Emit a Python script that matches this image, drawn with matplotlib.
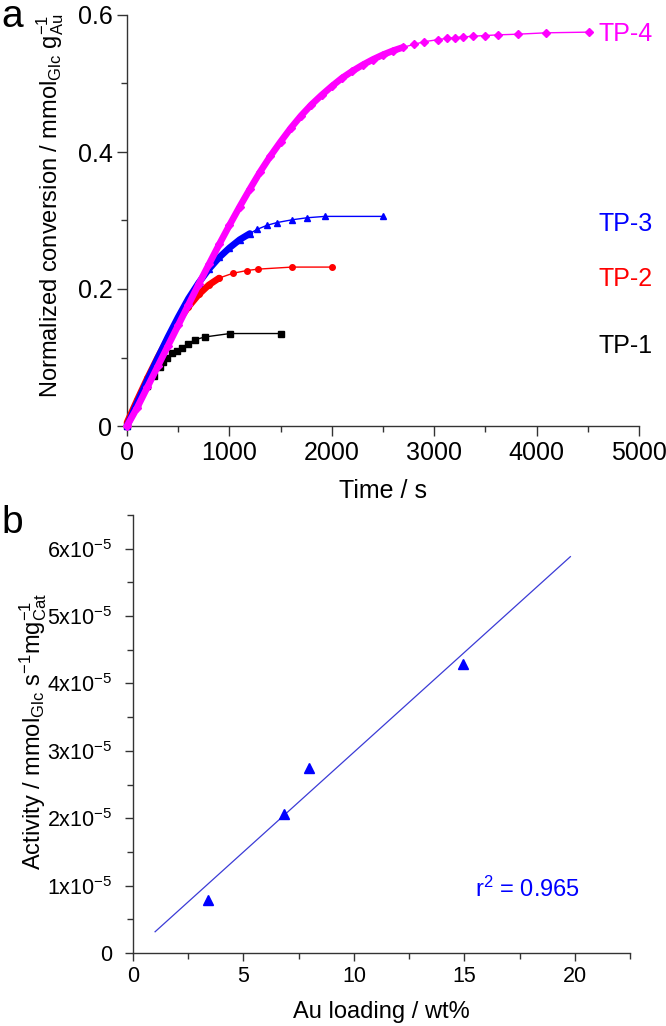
import numpy as np
import matplotlib
matplotlib.use("Agg")
import matplotlib.pyplot as plt
from matplotlib.ticker import MultipleLocator, FuncFormatter

plt.rcParams['font.family'] = ['Liberation Sans', 'DejaVu Sans']
plt.rcParams['mathtext.fontset'] = 'custom'
plt.rcParams['mathtext.rm'] = 'Liberation Sans'
plt.rcParams['mathtext.it'] = 'Liberation Sans:italic'
plt.rcParams['mathtext.bf'] = 'Liberation Sans:bold'

# ---- panel a: normalized conversion vs time ----
tp1_t = [0, 100, 200, 260, 322, 352, 391, 439, 488, 537, 596, 664, 762, 1006, 1504]
tp1_y = [0, 0.030, 0.059, 0.073, 0.086, 0.093, 0.100, 0.106, 0.110, 0.114, 0.120, 0.126, 0.130, 0.135, 0.135]

tp2_t = [0, 100, 200, 300, 400, 500, 600, 700, 800, 900, 1035, 1172, 1280, 1611, 2002]
tp2_y = [0.005, 0.038, 0.070, 0.100, 0.128, 0.153, 0.174, 0.192, 0.206, 0.216, 0.223, 0.227, 0.229, 0.232, 0.232]

tp3_t = [0, 100, 200, 300, 400, 500, 600, 700, 800, 900, 1000, 1100, 1200, 1270, 1367,
         1465, 1611, 1758, 1934, 2500]
tp3_y = [0, 0.034, 0.067, 0.099, 0.130, 0.159, 0.186, 0.209, 0.229, 0.246, 0.260, 0.272, 0.281,
         0.287, 0.293, 0.297, 0.301, 0.304, 0.306, 0.306]

tp4_t = [0, 100, 200, 300, 400, 500, 600, 700, 800, 900, 1000, 1100, 1200, 1300, 1400, 1500,
         1600, 1700, 1800, 1900, 2000, 2100, 2200, 2300, 2400, 2500, 2600, 2700, 2800, 2900,
         3037, 3125, 3203, 3281, 3379, 3496, 3623, 3818, 4092, 4512]
tp4_y = [0, 0.027, 0.057, 0.087, 0.117, 0.147, 0.177, 0.207, 0.236, 0.265, 0.293, 0.320, 0.346,
         0.371, 0.394, 0.415, 0.435, 0.453, 0.469, 0.483, 0.496, 0.508, 0.518, 0.527, 0.535,
         0.542, 0.548, 0.553, 0.557, 0.561, 0.564, 0.566, 0.567, 0.568, 0.569, 0.570, 0.571,
         0.572, 0.574, 0.575]

series_names = ['TP-1', 'TP-2', 'TP-3', 'TP-4']

# ---- panel b: activity vs Au loading ----
au_loading = [3.39, 6.83, 7.96, 14.93]
activity = [0.79e-5, 2.06e-5, 2.74e-5, 4.29e-5]
fit_range = [1.0, 19.8]
r_squared = 0.965

W, H = 666, 1026
fig = plt.figure(figsize=(W / 100, H / 100), dpi=100)
axis_col = '#333333'


def style_axes(ax, fs, ylpad):
    for s in ['top', 'right']:
        ax.spines[s].set_visible(False)
    for s in ['left', 'bottom']:
        ax.spines[s].set_color(axis_col)
        ax.spines[s].set_linewidth(1.0)
    ax.tick_params(which='both', direction='out', color=axis_col, width=1.0, labelsize=fs)
    ax.tick_params(axis='y', which='major', pad=ylpad)
    ax.tick_params(axis='x', which='major', pad=3.5)


def draw_series(ax, t, y, color, marker, ms, dense_until=None, z=2):
    t = np.asarray(t)
    y = np.asarray(y)
    if dense_until is not None:
        d = t <= dense_until
        ax.plot(t[d], y[d], color=color, lw=4.8, solid_capstyle='round',
                solid_joinstyle='round', clip_on=False, zorder=z)
    ax.plot(t, y, color=color, lw=1.0, marker=marker, ms=ms, mec=color, mfc=color,
            clip_on=False, zorder=z)


# panel a
ax = fig.add_axes([127 / W, 1 - 426 / H, (639 - 127) / W, (426 - 15) / H])
style_axes(ax, 18, 3.5)
ax.tick_params(which='major', length=7)
ax.tick_params(which='minor', length=4)

draw_series(ax, tp1_t, tp1_y, 'black', 's', 4.5, None, 2)
draw_series(ax, tp2_t, tp2_y, '#ff0000', 'o', 4.0, 1000, 3)
draw_series(ax, tp3_t, tp3_y, '#0000ff', '^', 5.0, 1200, 4)
draw_series(ax, tp4_t, tp4_y, '#ff00ff', 'D', 3.8, 2700, 5)

ax.set_xlim(0, 5000)
ax.set_ylim(0, 0.6)
ax.xaxis.set_major_locator(MultipleLocator(1000))
ax.xaxis.set_minor_locator(MultipleLocator(500))
ax.yaxis.set_major_locator(MultipleLocator(0.2))
ax.yaxis.set_minor_locator(MultipleLocator(0.1))
ax.yaxis.set_major_formatter(FuncFormatter(lambda v, p: '0' if abs(v) < 1e-9 else f'{v:.1f}'))

label_pos = {'TP-1': (4600, 0.106, 'black'), 'TP-2': (4600, 0.204, '#ff0000'),
             'TP-3': (4600, 0.284, '#0000ff'), 'TP-4': (4600, 0.562, '#ff00ff')}
for name in series_names:
    x, y, c = label_pos[name]
    ax.text(x, y, name, color=c, fontsize=18, va='baseline', ha='left')

ax.set_xlabel('Time / s', fontsize=18, va='baseline')
ax.xaxis.set_label_coords(0.5, (426 - 498) / 411)
ax.set_ylabel(r'Normalized conversion / mmol$_{\mathrm{Glc}}$ g$_{\mathrm{Au}}^{-1}$',
              fontsize=17, ha='left')
ax.yaxis.set_label_coords((66 - 127) / 512, (426 - 398) / 411)

# panel b
bx = fig.add_axes([133 / W, 1 - 953 / H, (630 - 133) / W, (953 - 515) / H])
style_axes(bx, 15.5, 9)
bx.tick_params(which='major', length=6)
bx.tick_params(which='minor', length=4)

bx.plot(au_loading, activity, ls='none', marker='^', ms=7.5, color='#0000ff', zorder=3)
coef = np.polyfit(au_loading, activity, 1)
fx = np.array(fit_range)
bx.plot(fx, np.polyval(coef, fx), color='#3b3bd6', lw=0.9, zorder=2)

bx.set_xlim(0, 22.5)
bx.set_ylim(0, 6.5e-5)
bx.xaxis.set_major_locator(MultipleLocator(5))
bx.xaxis.set_minor_locator(MultipleLocator(2.5))
bx.yaxis.set_major_locator(MultipleLocator(1e-5))
bx.yaxis.set_minor_locator(MultipleLocator(0.5e-5))
bx.yaxis.set_major_formatter(FuncFormatter(
    lambda v, p: '0' if abs(v) < 1e-12 else f'{int(round(v / 1e-5))}x10$^{{-5}}$'))

bx.text(15.47, 0.83e-5, f'r$^{{2}}$ = {r_squared:.3f}', color='#0000ff', fontsize=17,
        va='baseline', ha='left')

bx.set_xlabel('Au loading / wt%', fontsize=17, va='baseline')
bx.xaxis.set_label_coords(0.5, (953 - 1018) / 438)
bx.set_ylabel(r'Activity / mmol$_{\mathrm{Glc}}$ s$^{-1}$mg$_{\mathrm{Cat}}^{-1}$', fontsize=17)
bx.yaxis.set_label_coords((49 - 133) / 497, 0.505)

fig.text(1 / W, 1 - 27 / H, 'a', fontsize=28, va='baseline', ha='left')
fig.text(1 / W, 1 - 533 / H, 'b', fontsize=28, va='baseline', ha='left')

fig.savefig('out.png', dpi=100)
